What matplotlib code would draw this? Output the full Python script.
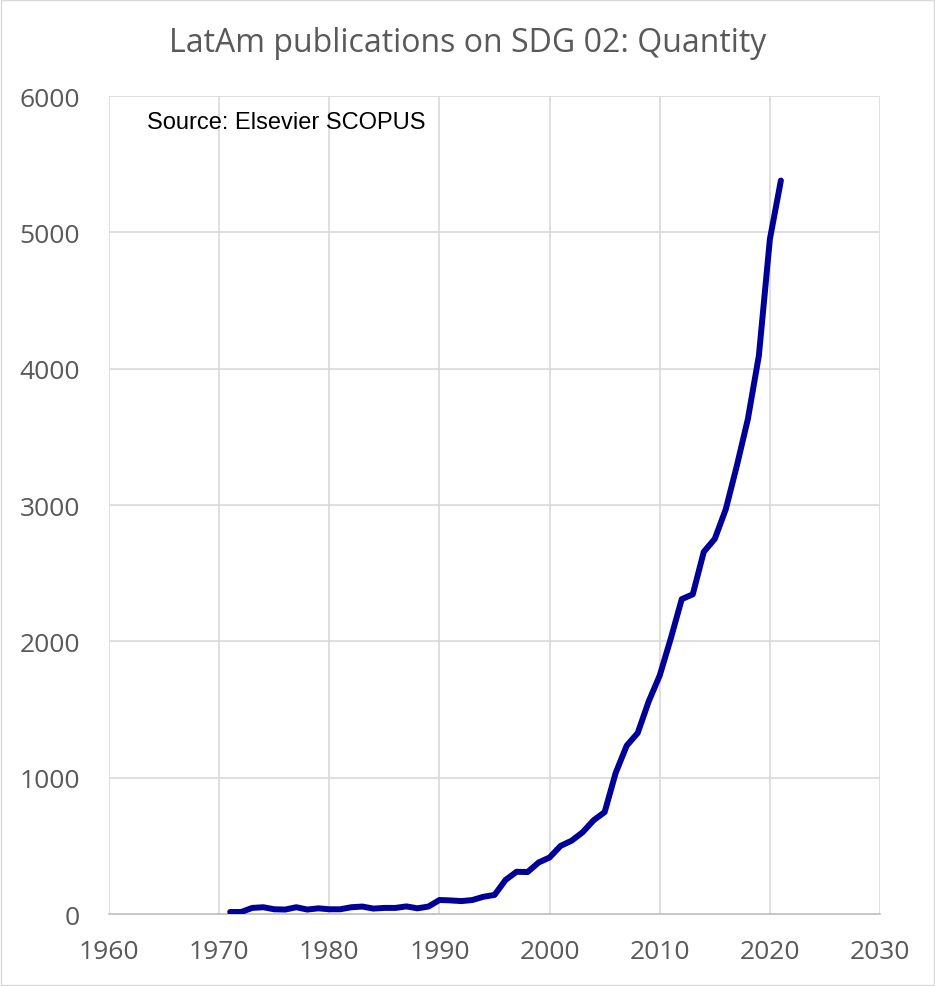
import matplotlib.pyplot as plt
from matplotlib.patches import Rectangle

# LatAm SDG 02 publication counts per year
years = list(range(1971, 2022))
pubs = [15, 15, 45, 50, 35, 33, 50, 33, 42, 35,
        35, 50, 55, 40, 45, 45, 56, 42, 55, 103,
        100, 95, 103, 127, 140, 250, 310, 308, 378, 415,
        500, 538, 600, 688, 748, 1035, 1235, 1328, 1560, 1750,
        2020, 2310, 2345, 2657, 2752, 2970, 3288, 3630, 4095, 4950,
        5380]

x_ticks = [1960, 1970, 1980, 1990, 2000, 2010, 2020, 2030]
y_ticks = [0, 1000, 2000, 3000, 4000, 5000, 6000]

grey = "#595959"
plt.rcParams["font.family"] = ["Open Sans", "DejaVu Sans"]

fig = plt.figure(figsize=(9.35, 9.87), dpi=100)
ax = fig.add_axes([0.1166, 0.0729, 0.8246, 0.8288])

ax.plot(years, pubs, color="#000099", lw=4.3, solid_capstyle="round",
        solid_joinstyle="round", zorder=3)

ax.set_xlim(1960, 2030)
ax.set_ylim(0, 6000)
ax.set_xticks(x_ticks)
ax.set_yticks(y_ticks)
ax.grid(True, color="#d9d9d9", lw=1.2)
ax.set_axisbelow(True)
for s in ["top", "right", "left"]:
    ax.spines[s].set_visible(False)
ax.spines["bottom"].set_color("#bfbfbf")
ax.spines["bottom"].set_linewidth(1.2)
ax.tick_params(length=0, labelsize=19, labelcolor=grey)
ax.tick_params(axis="y", pad=21)
ax.tick_params(axis="x", pad=18)

ax.text(0.049, 0.968, "Source: Elsevier SCOPUS", transform=ax.transAxes,
        family="Liberation Sans", fontsize=17, va="center", ha="left")

fig.text(0.5, 0.956, "LatAm publications on SDG 02: Quantity",
         ha="center", va="center", fontsize=23, color=grey)

fig.patches.append(Rectangle((0.001, 0.001), 0.998, 0.998, transform=fig.transFigure,
                             fill=False, edgecolor="#d9d9d9", lw=1))

fig.savefig("out.png", dpi=100)
